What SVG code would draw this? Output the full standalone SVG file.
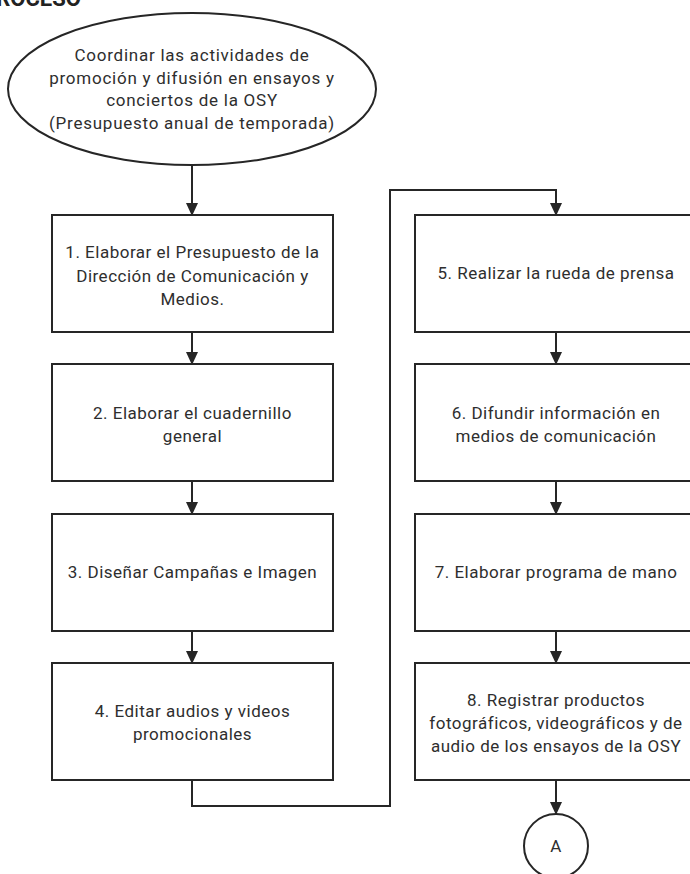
<svg xmlns="http://www.w3.org/2000/svg" width="690" height="874" viewBox="0 0 690 874">
<style>
.n{fill:#fff;stroke:#262626;stroke-width:2}
.t{font-family:Roboto,"Liberation Sans",sans-serif;font-size:17px;letter-spacing:0.5px;fill:#2e2e2e;text-anchor:middle}
.e{font-size:17px;letter-spacing:0.75px}
.c{fill:none;stroke:#262626;stroke-width:2}
.h{font-family:Roboto,"Liberation Sans",sans-serif;font-size:22px;font-weight:bold;fill:#222}
</style>
<defs>
<marker id="dn" viewBox="0 0 13 12" refX="12" refY="6" markerWidth="13" markerHeight="12" markerUnits="userSpaceOnUse" orient="auto">
<path d="M0,0 L13,6 L0,12 Z" fill="#262626"/>
</marker>
</defs>
<rect width="690" height="874" fill="#fff"/>
<text class="h" x="-18" y="6">PROCESO</text>
<g id="start">
<ellipse class="n" cx="192" cy="89" rx="184" ry="76"/>
<text class="t e" x="192" y="61">Coordinar las actividades de</text>
<text class="t e" x="192" y="83.5">promoción y difusión en ensayos y</text>
<text class="t e" x="192" y="106">conciertos de la OSY</text>
<text class="t e" x="192" y="128.5">(Presupuesto anual de temporada)</text>
</g>
<g id="connectors">
<line class="c" x1="192" y1="165" x2="192" y2="215" marker-end="url(#dn)"/>
<line class="c" x1="192" y1="332" x2="192" y2="364" marker-end="url(#dn)"/>
<line class="c" x1="192" y1="481" x2="192" y2="514" marker-end="url(#dn)"/>
<line class="c" x1="192" y1="631" x2="192" y2="663" marker-end="url(#dn)"/>
<polyline class="c" points="192,780 192,806 390,806 390,190 556,190 556,215" marker-end="url(#dn)"/>
<line class="c" x1="556" y1="332" x2="556" y2="364" marker-end="url(#dn)"/>
<line class="c" x1="556" y1="481" x2="556" y2="514" marker-end="url(#dn)"/>
<line class="c" x1="556" y1="631" x2="556" y2="663" marker-end="url(#dn)"/>
<line class="c" x1="556" y1="780" x2="556" y2="814" marker-end="url(#dn)"/>
</g>
<g id="n1">
<rect class="n" x="52" y="215" width="281" height="117"/>
<text class="t" x="192.5" y="258">1. Elaborar el Presupuesto de la</text>
<text class="t" x="192.5" y="281.5">Dirección de Comunicación y</text>
<text class="t" x="192.5" y="305">Medios.</text>
</g>
<g id="n2">
<rect class="n" x="52" y="364" width="281" height="117"/>
<text class="t" x="192.5" y="419">2. Elaborar el cuadernillo</text>
<text class="t" x="192.5" y="442">general</text>
</g>
<g id="n3">
<rect class="n" x="52" y="514" width="281" height="117"/>
<text class="t" x="192.5" y="578">3. Diseñar Campañas e Imagen</text>
</g>
<g id="n4">
<rect class="n" x="52" y="663" width="281" height="117"/>
<text class="t" x="192.5" y="717">4. Editar audios y videos</text>
<text class="t" x="192.5" y="740">promocionales</text>
</g>
<g id="n5">
<rect class="n" x="415" y="215" width="282" height="117"/>
<text class="t" x="556" y="279">5. Realizar la rueda de prensa</text>
</g>
<g id="n6">
<rect class="n" x="415" y="364" width="282" height="117"/>
<text class="t" x="556" y="419">6. Difundir información en</text>
<text class="t" x="556" y="442">medios de comunicación</text>
</g>
<g id="n7">
<rect class="n" x="415" y="514" width="282" height="117"/>
<text class="t" x="556" y="578">7. Elaborar programa de mano</text>
</g>
<g id="n8">
<rect class="n" x="415" y="663" width="282" height="117"/>
<text class="t" x="556" y="706">8. Registrar productos</text>
<text class="t" x="556" y="729">fotográficos, videográficos y de</text>
<text class="t" x="556" y="752">audio de los ensayos de la OSY</text>
</g>
<g id="connA">
<circle class="n" cx="556" cy="846" r="32"/>
<text class="t" x="556" y="852">A</text>
</g>
</svg>
